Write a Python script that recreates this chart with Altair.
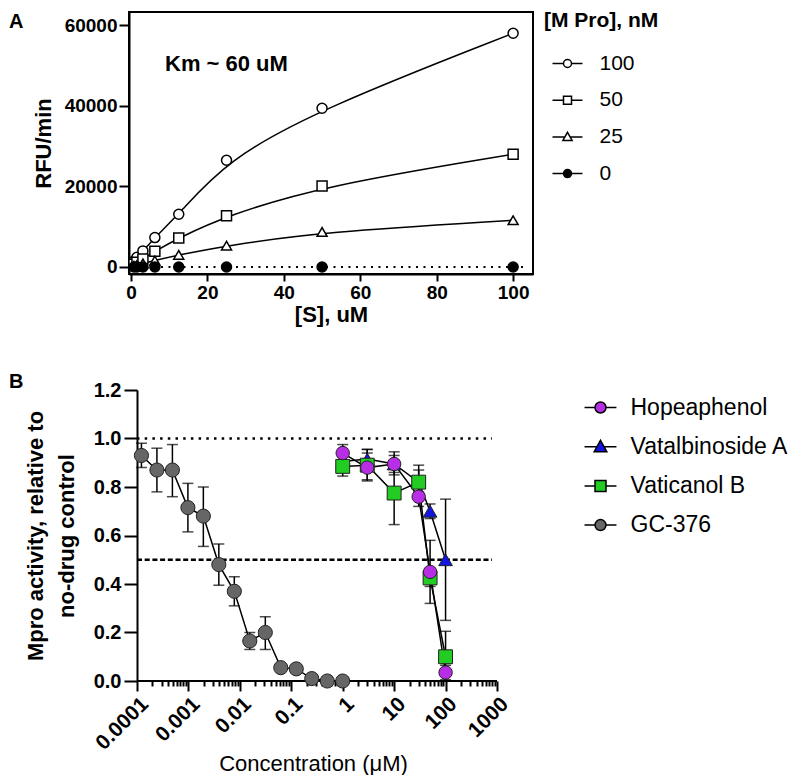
import altair as alt
import pandas as pd

FONT = "Liberation Sans"

# ---------------- Panel A data ----------------
substrate_uM = [0.78, 1.56, 3.125, 6.25, 12.5, 25, 50, 100]
rfu_100nM = [1500, 2400, 4000, 7300, 13100, 26500, 39400, 58000]
rfu_50nM = [700, 1200, 2000, 3900, 7200, 12700, 20100, 28000]
rfu_25nM = [300, 500, 900, 1600, 3000, 5300, 8700, 11600]
rfu_0nM = [0, 0, 0, 0, 0, 0, 0, 0]
mpro_levels = ["100", "50", "25", "0"]
a_x_ticks = [0, 20, 40, 60, 80, 100]
a_y_ticks = [0, 20000, 40000, 60000]

# ---------------- Panel B data ----------------
gc376_conc = [0.000122, 0.000244, 0.000488, 0.000977, 0.00195, 0.0039, 0.0078,
              0.0156, 0.03125, 0.0625, 0.125, 0.25, 0.5, 1.0]
gc376_act = [0.93, 0.87, 0.87, 0.715, 0.68, 0.48, 0.37, 0.165, 0.20, 0.055, 0.05, 0.01, 0.0, 0.0]
gc376_lo = [0.88, 0.78, 0.76, 0.615, 0.555, 0.395, 0.31, 0.13, 0.13, None, None, None, None, None]
gc376_hi = [0.98, 0.96, 0.975, 0.815, 0.80, 0.565, 0.43, 0.20, 0.265, None, None, None, None, None]

natural_conc = [1, 3, 10, 30, 50, 100]
hope_act = [0.94, 0.88, 0.895, 0.76, 0.45, 0.035]
hope_lo = [0.91, 0.83, 0.85, 0.72, 0.32, 0.005]
hope_hi = [0.975, 0.94, 0.945, 0.80, 0.58, 0.065]
vatal_act = [0.905, 0.915, 0.895, 0.82, 0.70, 0.50]
vatal_lo = [0.88, 0.88, 0.86, 0.75, 0.67, 0.25]
vatal_hi = [0.93, 0.955, 0.93, 0.89, 0.73, 0.75]
vatic_act = [0.885, 0.89, 0.775, 0.82, 0.425, 0.10]
vatic_lo = [0.845, 0.825, 0.645, 0.78, 0.39, 0.0]
vatic_hi = [0.925, 0.955, 0.905, 0.87, 0.46, 0.205]

compounds = ["Hopeaphenol", "Vatalbinoside A", "Vaticanol B", "GC-376"]
compound_colors = ["#B82EE6", "#1414E0", "#22CC22", "#666666"]
b_y_ticks = [0.0, 0.2, 0.4, 0.6, 0.8, 1.0, 1.2]
major_ticks = [0.0001, 0.001, 0.01, 0.1, 1, 10, 100, 1000]

# annotation texts
km_label = ["Km ~ 60 uM"]
panel_letters = ["A", "B"]

# ---------------- tables ----------------
rows_a = []
for lvl, vals in zip(mpro_levels, [rfu_100nM, rfu_50nM, rfu_25nM, rfu_0nM]):
    for s, v in zip(substrate_uM, vals):
        rows_a.append({"S": s, "RFU": v, "conc": lvl})
dfA = pd.DataFrame(rows_a)

rows_b = []
series_draw = [
    ("GC-376", gc376_conc, gc376_act, gc376_lo, gc376_hi),
    ("Vatalbinoside A", natural_conc, vatal_act, vatal_lo, vatal_hi),
    ("Vaticanol B", natural_conc, vatic_act, vatic_lo, vatic_hi),
    ("Hopeaphenol", natural_conc, hope_act, hope_lo, hope_hi),
]
for name, xs, ys, los, his in series_draw:
    for x, y, lo, hi in zip(xs, ys, los, his):
        rows_b.append({"cmpd": name, "conc": x, "act": y, "lo": lo, "hi": hi})
dfB = pd.DataFrame(rows_b)
dfB_err = dfB.dropna(subset=["lo", "hi"])

one_row = pd.DataFrame({"k": [0]})

minor_ticks = [m * k for m in major_ticks[:-1] for k in range(2, 10)]
all_ticks = sorted(major_ticks + minor_ticks)

# ---------------- Panel A ----------------
axis_common = dict(domainColor="black", domainWidth=2, tickColor="black", tickWidth=2,
                   labelColor="black", labelFont=FONT, labelFontWeight="bold",
                   titleColor="black", titleFont=FONT, titleFontWeight="bold", grid=False)

xA = alt.X("S:Q", scale=alt.Scale(domain=[-0.52, 105.2], nice=False, zero=False),
           axis=alt.Axis(values=a_x_ticks, title="[S], uM", tickSize=7, labelFontSize=19,
                         labelPadding=2, titleFontSize=22, titlePadding=2, **axis_common))
yA = alt.Y("RFU:Q", scale=alt.Scale(domain=[-1737, 63275], nice=False, zero=False),
           axis=alt.Axis(values=a_y_ticks, format="d", title="RFU/min", tickSize=10,
                         labelFontSize=19, labelPadding=2, titleFontSize=22, titlePadding=9,
                         **axis_common))

paths_a = [
    "M-0.5,0H2.25M4.25,0H7M2.25,0A1,1,0,1,0,4.25,0A1,1,0,1,0,2.25,0Z",
    "M-0.5,0H2.25M4.25,0H7M2.25,-1H4.25V1H2.25Z",
    "M-0.5,0H2.62M3.88,0H7M3.25,-1.15L4.4,0.9H2.1Z",
    "M-0.5,0H2.25M4.25,0H7M2.25,0A1,1,0,1,0,4.25,0A1,1,0,1,0,2.25,0Z",
]
fills_a = ["white", "white", "white", "black"]

legend_a = alt.Legend(title="[M Pro], nM", orient="none", legendX=415, legendY=-2.5,
                      titleFont=FONT, titleFontSize=21, titleFontWeight="bold", titleColor="black",
                      titlePadding=22.5, labelFont=FONT, labelFontSize=21, labelColor="black",
                      labelOffset=34.5, rowPadding=14.7, symbolSize=64, symbolStrokeWidth=1.5,
                      symbolOpacity=1)

lines_a = alt.Chart(dfA).transform_filter("datum.conc != '0'").mark_line(
    color="black", strokeWidth=1.5, interpolate="basis"
).encode(x=xA, y=yA, detail="conc:N")

zero_rule = alt.Chart(one_row).mark_rule(color="black", strokeWidth=2, strokeDash=[2, 5.5]).encode(
    x=alt.datum(0), x2=alt.datum(103.5), y=alt.datum(0)
)

points_a = alt.Chart(dfA).mark_point(stroke="black", strokeWidth=1.5, size=100, opacity=1).encode(
    x=xA, y=yA,
    shape=alt.Shape("conc:N", scale=alt.Scale(domain=mpro_levels,
                    range=["circle", "square", "triangle-up", "circle"]), legend=None),
    fill=alt.Fill("conc:N", scale=alt.Scale(domain=mpro_levels, range=fills_a), legend=None),
)

# legend-only layer: its rows are filtered away so only the legend is drawn
legend_layer_a = alt.Chart(dfA).transform_filter("datum.S < -1000").mark_point(
    stroke="black", strokeWidth=1.5, size=64, opacity=1
).encode(
    x=xA, y=yA,
    shape=alt.Shape("conc:N", scale=alt.Scale(domain=mpro_levels, range=paths_a), legend=legend_a),
    fill=alt.Fill("conc:N", scale=alt.Scale(domain=mpro_levels, range=fills_a), legend=legend_a),
)

km_text = alt.Chart(one_row).mark_text(text=km_label[0], font=FONT, fontSize=22, fontWeight="bold",
                                       align="left", baseline="middle", color="black").encode(
    x=alt.datum(8.9), y=alt.datum(50400)
)

letter_a = alt.Chart(one_row).mark_text(text=panel_letters[0], font=FONT, fontSize=20, fontWeight="bold",
                                        align="left", baseline="top", color="black").encode(
    x=alt.value(-120), y=alt.value(0)
)

panel_a = alt.layer(lines_a, zero_rule, points_a, legend_layer_a, km_text, letter_a).resolve_scale(
    shape="independent", fill="independent"
).properties(width=404, height=262, view=alt.ViewBackground(stroke="black", strokeWidth=2))

# ---------------- Panel B ----------------
major_list = "[0.0001,0.001,0.01,0.1,1,10,100,1000]"
xB_scale = alt.Scale(type="log", domain=[6.99e-5, 1000], nice=False)
yB_scale = alt.Scale(domain=[0, 1.2], nice=False, zero=False)

xB = alt.X("conc:Q", scale=xB_scale,
           axis=alt.Axis(values=all_ticks, domain=False, labelOverlap=False,
                         labelExpr=f"indexof({major_list}, datum.value) >= 0 ? '' + datum.value : ''",
                         tickSize={"condition": {"test": f"indexof({major_list}, datum.value) < 0", "value": 5},
                                   "value": 10},
                         tickColor="black", tickWidth=2, labelAngle=-45, labelFontSize=21,
                         labelFont=FONT, labelFontWeight="bold", labelColor="black", labelPadding=2,
                         title="Concentration (μM)", titleFont=FONT, titleFontSize=22,
                         titleFontWeight="normal", titleColor="black", titlePadding=0, grid=False))
yB = alt.Y("act:Q", scale=yB_scale,
           axis=alt.Axis(values=b_y_ticks, format=".1f", offset=-8, tickSize=13, labelFontSize=20,
                         labelPadding=3, title=["Mpro activity, relative to", "no-drug control"],
                         titleFontSize=22, titlePadding=15, titleLineHeight=31, **axis_common))

ref_one = alt.Chart(one_row).mark_rule(color="black", strokeWidth=2.5, strokeDash=[2.5, 5.2]).encode(
    x=alt.datum(0.0001), x2=alt.datum(800), y=alt.datum(1.0)
)
ref_half = alt.Chart(one_row).mark_rule(color="black", strokeWidth=2.5, strokeDash=[5, 2.7]).encode(
    x=alt.datum(0.0001), x2=alt.datum(800), y=alt.datum(0.5)
)
x_axis_line = alt.Chart(one_row).mark_rule(color="black", strokeWidth=2).encode(
    x=alt.datum(0.0001), x2=alt.datum(1000), y=alt.datum(0)
)

err_rules = alt.Chart(dfB_err).mark_rule(color="black", strokeWidth=1.5).encode(
    x=alt.X("conc:Q", scale=xB_scale), y=alt.Y("lo:Q", scale=yB_scale), y2="hi:Q"
)
err_lo = alt.Chart(dfB_err).mark_tick(color="black", orient="horizontal", size=11, thickness=1.5).encode(
    x=alt.X("conc:Q", scale=xB_scale), y=alt.Y("lo:Q", scale=yB_scale)
)
err_hi = alt.Chart(dfB_err).mark_tick(color="black", orient="horizontal", size=11, thickness=1.5).encode(
    x=alt.X("conc:Q", scale=xB_scale), y=alt.Y("hi:Q", scale=yB_scale)
)

lines_b = alt.Chart(dfB).mark_line(color="black", strokeWidth=1.5).encode(
    x=xB, y=yB, detail="cmpd:N"
)

points_b = alt.Chart(dfB).mark_point(stroke="#222222", strokeWidth=1, opacity=1).encode(
    x=xB, y=yB,
    shape=alt.Shape("cmpd:N", scale=alt.Scale(domain=compounds,
                    range=["circle", "triangle-up", "square", "circle"]), legend=None),
    fill=alt.Fill("cmpd:N", scale=alt.Scale(domain=compounds, range=compound_colors), legend=None),
    size=alt.Size("cmpd:N", scale=alt.Scale(domain=compounds, range=[180, 200, 150, 180]), legend=None),
)

paths_b = [
    "M-2.9,0H-1M1,0H2.9M-1,0A1,1,0,1,0,1,0A1,1,0,1,0,-1,0Z",
    "M-2.9,0H-0.63M0.63,0H2.9M0,-1.15L1.15,0.9H-1.15Z",
    "M-2.9,0H-1M1,0H2.9M-1,-1H1V1H-1Z",
    "M-2.9,0H-1M1,0H2.9M-1,0A1,1,0,1,0,1,0A1,1,0,1,0,-1,0Z",
]
legend_b = alt.Legend(title=None, orient="none", legendX=460, legendY=6,
                      labelFont=FONT, labelFontSize=23, labelColor="black", labelOffset=18.5,
                      rowPadding=15.2, symbolSize=121, symbolStrokeWidth=1.5, symbolOpacity=1)

legend_layer_b = alt.Chart(dfB).transform_filter("datum.conc < 0").mark_point(
    stroke="black", strokeWidth=1.5, opacity=1
).encode(
    x=xB, y=yB,
    shape=alt.Shape("cmpd:N", scale=alt.Scale(domain=compounds, range=paths_b), legend=legend_b),
    fill=alt.Fill("cmpd:N", scale=alt.Scale(domain=compounds, range=compound_colors), legend=legend_b),
)

letter_b = alt.Chart(one_row).mark_text(text=panel_letters[1], font=FONT, fontSize=20, fontWeight="bold",
                                        align="left", baseline="top", color="black").encode(
    x=alt.value(-120), y=alt.value(-18)
)

panel_b = alt.layer(ref_one, ref_half, x_axis_line, err_rules, err_lo, err_hi, lines_b, points_b,
                    legend_layer_b, letter_b).resolve_scale(
    shape="independent", fill="independent", size="independent"
).properties(width=368, height=291)

chart = alt.vconcat(panel_a, panel_b, spacing=46).properties(
    padding={"left": 0, "top": 0, "right": 0, "bottom": 0}
).configure(font=FONT).configure_view(strokeWidth=0)

chart.save("out.html", embed_options={"renderer": "svg", "actions": False})
